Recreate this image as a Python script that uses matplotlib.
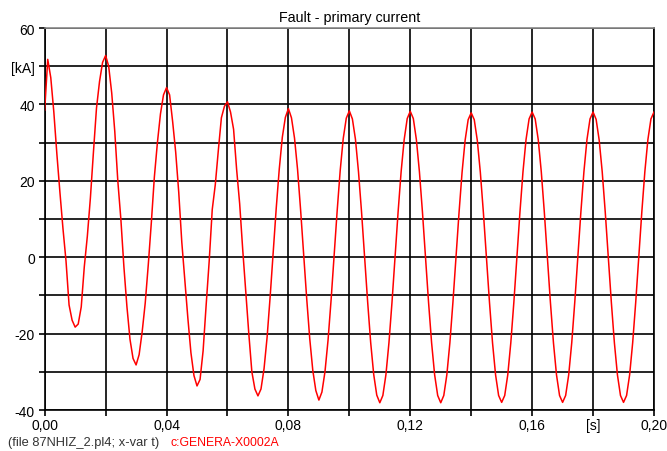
import numpy as np
import matplotlib
matplotlib.use('Agg')
import matplotlib.pyplot as plt

plt.rcParams['font.family'] = ['Liberation Sans', 'DejaVu Sans']

# primary current [kA], one sample per ms from 0 to 200 ms
i_kA = [
    38.5, 51.8, 47.0, 38.0, 27.0, 17.0, 7.5, -1.0, -12.5, -16.5,
    -18.3, -17.5, -13.0, -2.5, 5.5, 15.5, 27.5, 39.0, 46.0, 51.0,
    52.8, 50.0, 43.0, 33.0, 20.0, 10.0, -2.5, -13.0, -21.5, -26.5,
    -28.2, -25.5, -19.5, -12.0, -2.0, 9.0, 21.0, 30.0, 37.5, 42.5,
    44.4, 42.5, 35.5, 27.5, 17.0, 4.0, -6.0, -16.0, -25.0, -31.0,
    -33.7, -32.0, -24.5, -12.5, -1.0, 12.5, 19.0, 28.0, 36.5, 39.5,
    40.7, 38.0, 33.5, 23.0, 14.0, 2.0, -9.0, -20.0, -30.0, -34.5,
    -36.3, -34.5, -29.2, -21.0, -10.4, 1.2, 12.8, 23.1, 31.4, 36.6,
    38.9, 36.5, 31.2, 23.0, 12.4, 0.8, -10.8, -21.3, -29.6, -34.9,
    -37.4, -35.3, -30.0, -21.8, -11.3, 0.4, 12.1, 22.7, 31.1, 36.4,
    38.3, 36.2, 30.9, 22.4, 11.9, 0.2, -11.6, -22.3, -30.7, -36.1,
    -38.1, -36.2, -30.8, -22.4, -11.8, 0.1, 11.8, 22.4, 30.8, 36.3,
    38.2, 36.3, 30.8, 22.4, 11.8, 0.0, -11.8, -22.4, -30.8, -36.2,
    -38.1, -36.2, -30.8, -22.4, -11.8, -0.1, 11.6, 22.2, 30.6, 36.0,
    37.8, 36.0, 30.6, 22.2, 11.7, 0.0, -11.8, -22.4, -30.8, -36.2,
    -38.0, -36.2, -30.8, -22.4, -11.8, 0.0, 11.8, 22.4, 30.8, 36.2,
    38.0, 36.2, 30.8, 22.4, 11.8, 0.0, -11.8, -22.4, -30.8, -36.2,
    -38.0, -36.2, -30.8, -22.4, -11.7, 0.0, 11.8, 22.4, 30.8, 36.2,
    38.0, 36.1, 30.7, 22.4, 11.8, 0.1, -11.8, -22.4, -30.8, -36.2,
    -38.0, -36.2, -30.8, -22.4, -11.8, 0.0, 11.8, 22.4, 30.8, 36.2,
    38.0,
]
t = np.arange(len(i_kA)) * 0.001

y_ticks = [-40, -30, -20, -10, 0, 10, 20, 30, 40, 50, 60]
y_labels = ['-40', '', '-20', '', '0', '', '20', '', '40', '[kA]', '60']
x_ticks = [0.0, 0.02, 0.04, 0.06, 0.08, 0.10, 0.12, 0.14, 0.16, 0.18, 0.20]
x_labels = ['0,00', '', '0,04', '', '0,08', '', '0,12', '', '0,16', '[s]', '0,20']

fig = plt.figure(figsize=(6.67, 4.52), dpi=100)
ax = fig.add_axes([0.067, 0.0907, 0.9135, 0.8451])

ax.plot(t, i_kA, color='#ff0000', lw=1.1, zorder=3)

ax.set_xlim(0, 0.2)
ax.set_ylim(-40, 60)
ax.set_xticks(x_ticks)
ax.set_xticklabels(x_labels)
ax.set_yticks(y_ticks)
ax.set_yticklabels(y_labels)
ax.tick_params(axis='both', labelsize=10, length=4, width=1.2, direction='out', color='black', pad=2)
ax.tick_params(axis='y', pad=3)
ax.grid(True, color='black', lw=1.2)

for side in ['left', 'bottom', 'right']:
    ax.spines[side].set_color('black')
    ax.spines[side].set_linewidth(1.2)
ax.spines['top'].set_color('#888888')
ax.spines['top'].set_linewidth(1.2)

ax.set_title('Fault - primary current', fontsize=10.3, pad=5)

fig.text(0.012, 0.013, '(file 87NHIZ_2.pl4; x-var t)', fontsize=9.3, color='#333333')
fig.text(0.255, 0.013, 'c:GENERA-X0002A', fontsize=8.8, color='#ff0000')

fig.savefig('out.png', dpi=100)
